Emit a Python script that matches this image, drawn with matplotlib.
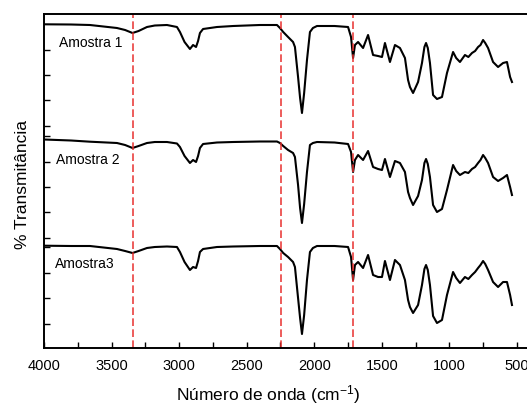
import numpy as np
import matplotlib
matplotlib.use('Agg')
import matplotlib.pyplot as plt

plt.rcParams['font.family'] = ['Liberation Sans', 'DejaVu Sans']
plt.rcParams['mathtext.default'] = 'regular'

# numero de onda (cm-1), comum aos tres espectros
onda = [4000, 3800, 3660, 3460, 3400, 3345, 3300, 3238, 3180, 3090, 3016, 2994,
        2960, 2920, 2897, 2875, 2860, 2846, 2823, 2720, 2600, 2402, 2276, 2254,
        2230, 2194, 2157, 2143, 2120, 2105, 2091, 2075, 2054, 2032, 2010, 1980,
        1850, 1750, 1728, 1713, 1699, 1676, 1639, 1602, 1565, 1528, 1499, 1477,
        1440, 1403, 1366, 1329, 1306, 1292, 1269, 1232, 1203, 1185, 1173, 1160,
        1144, 1121, 1092, 1055, 1018, 973, 950, 922, 885, 860, 833, 810, 788,
        770, 751, 735, 714, 677, 640, 603, 574, 551, 537]

# transmitancia (unidades arbitrarias, ja com deslocamento vertical)
amostra1 = [323.7, 323.5, 323, 320, 318, 315, 317, 321, 322.5, 323, 321, 316,
            306, 299, 303, 301, 307, 315, 319, 321, 322, 323, 323, 320,
            316, 311, 306, 301, 271, 250, 235, 255, 288, 316, 320, 322,
            322, 321, 311, 290, 303, 306, 300, 313, 293, 292, 291, 305,
            286, 303, 300, 290, 268, 261, 255, 266, 285, 301, 305, 300,
            285, 253, 249, 251, 275, 296, 290, 286, 293, 291, 295, 297, 301,
            303, 308, 305, 300, 286, 281, 285, 286, 271, 266]

amostra2 = [208.5, 207.5, 206.3, 205, 203, 200, 202, 205, 206, 206, 204.5, 201,
            192, 185, 188, 186, 192, 200, 204, 205.5, 206, 206.5, 206.5, 205,
            202, 198, 195, 191, 163, 140, 125, 144, 176, 203, 205, 206,
            205.5, 204, 196, 176, 188, 193, 188, 197, 181, 179, 178, 189,
            171, 187, 185, 176, 156, 150, 143, 152, 168, 185, 189, 184,
            171, 143, 136, 139, 158, 183, 177, 173, 176, 175, 179, 181, 185,
            188, 193, 190, 185, 171, 167, 170, 173, 161, 153]

amostra3 = [102.3, 102, 102, 99, 97, 95, 97, 100, 101, 101.5, 101, 96,
            86, 78, 81, 80, 87, 96, 99, 101, 101.5, 102, 102, 99,
            95, 91, 86, 81, 50, 30, 14, 33, 68, 96, 100, 102,
            102, 101, 91, 68, 83, 86, 80, 93, 73, 71, 71, 87,
            68, 88, 83, 68, 48, 41, 35, 43, 63, 79, 83, 78,
            63, 32, 25, 28, 53, 76, 70, 65, 71, 69, 73, 76, 80,
            83, 87, 84, 78, 66, 61, 66, 66, 53, 43]

nomes = ['Amostra 1', 'Amostra 2', 'Amostra3']
pos_nomes = [(3889, 305), (3911, 188), (3919, 84)]

linhas_ref = [3345, 2245, 1712]

# marcas do eixo y (sem rotulos), paineis empilhados
yticks = [298, 273, 248, 222, 212, 186, 161, 136, 110, 101, 75, 50, 24]

fig = plt.figure(figsize=(5.27, 4.05), dpi=100)
ax = fig.add_axes([44 / 527, 57 / 405, 486.5 / 527, 334 / 405])

for y in [amostra1, amostra2, amostra3]:
    ax.plot(onda, y, color='black', lw=1.5)

for x in linhas_ref:
    ax.axvline(x, color='#e8302f', lw=1.1, dashes=(5, 2.2))

for nome, (x, y) in zip(nomes, pos_nomes):
    ax.text(x, y, nome, fontsize=10, ha='left', va='center')

ax.set_xlim(4000, 400)
ax.set_ylim(0, 334)
ax.set_xticks(np.arange(4000, 400, -500))
ax.set_xticks(np.arange(3750, 400, -500), minor=True)
ax.set_yticks(yticks)
ax.set_yticklabels([])
ax.tick_params(axis='both', which='both', direction='in', width=1)
ax.tick_params(axis='x', which='both', length=4, pad=8, labelsize=10.5)
ax.tick_params(axis='y', length=4)
ax.tick_params(right=False)
ax.spines['right'].set_visible(False)
for s in ['left', 'bottom', 'top']:
    ax.spines[s].set_linewidth(1.4)

fig.text(268 / 527, 1 - 395 / 405, 'Número de onda (cm$^{-1}$)', fontsize=12.5,
         ha='center', va='center')
fig.text(23 / 527, 1 - 184 / 405, '% Transmitância', fontsize=12.5,
         rotation=90, ha='center', va='center')

fig.savefig('out.png', dpi=100)
